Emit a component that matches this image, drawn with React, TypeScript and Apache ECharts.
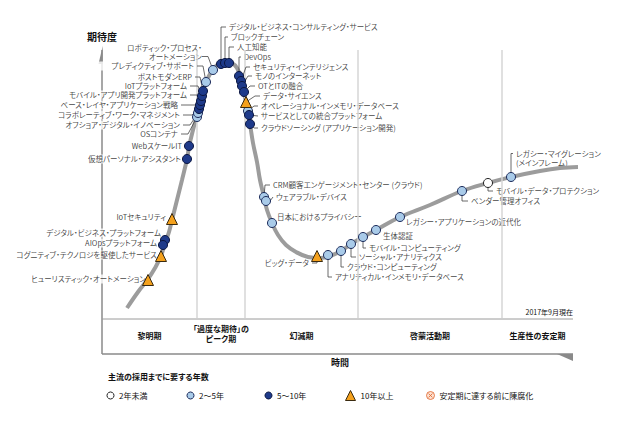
import React, { useEffect, useRef } from 'react';
import * as echarts from 'echarts';

const FONT = '"Noto Sans CJK JP", "Noto Sans", sans-serif';
const GRID_LEFT = 102;
const GRID_TOP = 18;
const GRID_W = 476;
const GRID_H = 300;
const GRID_BOTTOM = GRID_TOP + GRID_H;

// hype curve (time, expectation)
const CURVE: number[][] = [
  [25, 10], [36, 26], [46, 39], [53, 50], [59, 62], [63, 75], [67, 86], [70, 98], [75, 118], [80, 138],
  [85, 159], [87, 171], [91, 188], [95, 203], [98, 216], [101, 226], [104, 236], [108, 244], [112, 250],
  [118, 255], [124, 256], [130, 255], [135, 250], [139, 240], [141, 230], [144, 216], [146, 206], [148, 194],
  [151, 175], [155, 156], [158, 138], [162, 121], [165, 108], [170, 95], [176, 83], [184, 73], [194, 66],
  [206, 61], [218, 60], [228, 62], [239, 67], [249, 74], [261, 81], [274, 88], [298, 101], [328, 113],
  [360, 127], [386, 135], [409, 141], [438, 147], [458, 150], [476, 151],
];

const TECH_NAMES = [
  'ヒューリスティック・オートメーション',
  'コグニティブ・テクノロジを駆使したサービス',
  'デジタル・ビジネス・プラットフォーム',
  'AIOpsプラットフォーム',
  'IoTセキュリティ',
  '仮想パーソナル・アシスタント',
  'WebスケールIT',
  'OSコンテナ',
  'オフショア・デジタル・イノベーション',
  'コラボレーティブ・ワーク・マネジメント',
  'ベース・レイヤ・アプリケーション戦略',
  'モバイル・アプリ開発プラットフォーム',
  'IoTプラットフォーム',
  'ポストモダンERP',
  'プレディクティブ・サポート',
  'ロボティック・プロセス・\nオートメーション',
  'デジタル・ビジネス・コンサルティング・サービス',
  'ブロックチェーン',
  '人工知能',
  'DevOps',
  'セキュリティ・インテリジェンス',
  'モノのインターネット',
  'OTとITの融合',
  'データ・サイエンス',
  'オペレーショナル・インメモリ・データベース',
  'サービスとしての統合プラットフォーム',
  'クラウドソーシング (アプリケーション開発)',
  'CRM顧客エンゲージメント・センター (クラウド)',
  'ウェアラブル・デバイス',
  '日本におけるプライバシー',
  'ビッグ・データ',
  'アナリティカル・インメモリ・データベース',
  'クラウド・コンピューティング',
  'ソーシャル・アナリティクス',
  'モバイル・コンピューティング',
  '生体認証',
  'レガシー・アプリケーションの近代化',
  'ベンダー管理オフィス',
  'モバイル・データ・プロテクション',
  'レガシー・マイグレーション\n(メインフレーム)',
];

const TECH_TIME = [
  46, 59, 63, 61, 70, 85, 87, 95, 96, 97, 98, 99, 100, 101, 104, 111, 119, 123, 127, 137,
  139, 140, 142, 144, 146, 147, 148, 162, 164, 170, 215, 226, 239, 249, 261, 274, 298, 360, 386, 409,
];

const TECH_EXPECT = [
  38, 62, 78, 73, 99, 159, 172, 201, 205, 209, 213, 217, 222, 227, 236, 248, 254, 255, 255, 242,
  237, 232, 226, 216, 207, 203, 194, 121, 117, 95, 62, 63, 67, 74, 81, 88, 101, 127, 135, 141,
];

// 0: <2y, 1: 2-5y, 2: 5-10y, 3: >10y
const TECH_YEARS = [
  3, 3, 2, 2, 3, 2, 2, 1, 1, 2, 2, 2, 2, 2, 1, 1, 2, 2, 2, 2,
  2, 2, 2, 3, 1, 2, 2, 1, 1, 1, 3, 1, 1, 1, 1, 1, 1, 1, 0, 1,
];

const LEGEND_NAMES = ['2年未満', '2～5年', '5～10年', '10年以上', '安定期に達する前に陳腐化'];

const PHASE_NAMES = ['黎明期', '「過度な期待」の\nピーク期', '幻滅期', '啓蒙活動期', '生産性の安定期'];
const PHASE_BOUNDS = [0, 95, 143, 256, 400, 471];

// label layout in page pixels: [x, y, align, leader points]
type Layout = [number, number, 'left' | 'right', number[][] | null];
const LABEL_LAYOUT: Layout[] = [
  [147, 279, 'right', null],
  [158, 255, 'right', null],
  [162, 233, 'right', null],
  [158, 243, 'right', null],
  [167, 217, 'right', null],
  [182, 159, 'right', null],
  [183, 146, 'right', null],
  [179, 134, 'right', [[181, 134], [188, 134]]],
  [181, 125, 'right', [[183, 125], [190, 125]]],
  [181, 115, 'right', [[183, 115], [192, 115]]],
  [179, 105, 'right', [[181, 105], [196, 105]]],
  [188, 95, 'right', [[190, 95], [197, 95]]],
  [188, 86, 'right', [[190, 86], [198, 86]]],
  [193, 77, 'right', [[195, 77], [200, 77]]],
  [195, 66, 'right', [[197, 66], [203, 66]]],
  [203, 52, 'right', [[202, 56.5], [208, 56.5]]],
  [228, 27, 'left', [[226, 27], [221, 27]]],
  [230, 37, 'left', [[228, 37], [225, 37]]],
  [236, 47, 'left', [[234, 47], [229, 47]]],
  [243, 57, 'left', [[241, 57], [239, 57]]],
  [252, 67, 'left', [[250, 67], [246, 67]]],
  [254, 76, 'left', [[252, 76], [248, 76]]],
  [257, 86, 'left', [[255, 86], [250, 86]]],
  [262, 96, 'left', [[260, 96], [255, 96]]],
  [260, 106, 'left', [[258, 106], [254, 106]]],
  [260, 116, 'left', [[258, 116]]],
  [260, 128, 'left', [[258, 128], [254, 128]]],
  [272, 185, 'left', [[270, 185], [265, 185]]],
  [275, 197, 'left', [[273, 197], [270, 201]]],
  [276, 217, 'left', null],
  [310, 263, 'right', [[312, 263], [317, 263]]],
  [334, 277, 'left', [[332, 277], [328, 277]]],
  [346, 267, 'left', [[344, 267], [341, 267]]],
  [358, 257, 'left', [[356, 257], [351, 257]]],
  [368, 248, 'left', [[366, 248], [363, 248]]],
  [382, 236, 'left', null],
  [405, 222, 'left', null],
  [470, 201, 'left', [[468, 201], [462, 201]]],
  [495, 191, 'left', [[493, 191], [488, 191]]],
  [515, 158, 'left', [[513, 153.5], [511, 153.5]]],
];

const MARK_STYLES = [
  { symbol: 'circle', size: 9, color: '#ffffff', border: '#222222' },
  { symbol: 'circle', size: 9, color: '#a9cbe9', border: '#1b2a5a' },
  { symbol: 'circle', size: 9, color: '#1e3a8a', border: '#0b1640' },
  { symbol: 'triangle', size: 11, color: '#f4a11d', border: '#3a2a10' },
];
const OBSOLETE_SYMBOL = 'path://M10,5A5,5,0,1,1,0,5A5,5,0,1,1,10,5ZM2.6,2.6L7.4,7.4M7.4,2.6L2.6,7.4';

// legend item icon centres and sizes (page pixels)
const LEGEND_ICON_X = [110, 190, 268, 350, 430];
const LEGEND_ICON_SIZE = [7, 7, 7, 10, 8];
const LEGEND_ICON_Y = 395;

const toX = (px: number) => px - GRID_LEFT;
const toY = (py: number) => GRID_BOTTOM - py;

function buildOption() {
  const labelData = TECH_NAMES.map((name, i) => {
    const [lx, ly, align] = LABEL_LAYOUT[i];
    return { name, value: [toX(lx), toY(ly)], label: { align } };
  });
  const leaderData: any[] = [];
  TECH_NAMES.forEach((_, i) => {
    const pts = LABEL_LAYOUT[i][3];
    if (!pts) return;
    leaderData.push({
      coords: [...pts.map((p) => [toX(p[0]), toY(p[1])]), [TECH_TIME[i], TECH_EXPECT[i]]],
    });
  });
  const markerSeries = MARK_STYLES.map((st, k) => ({
    type: 'scatter',
    name: LEGEND_NAMES[k],
    z: 6,
    silent: true,
    symbol: st.symbol,
    symbolSize: st.size,
    itemStyle: { color: st.color, borderColor: st.border, borderWidth: 1, opacity: 1 },
    data: TECH_NAMES.map((n, i) => ({ name: n, value: [TECH_TIME[i], TECH_EXPECT[i]], k: TECH_YEARS[i] }))
      .filter((d) => d.k === k)
      .map((d) => ({ name: d.name, value: d.value })),
  }));

  const legends = LEGEND_NAMES.map((name, k) => {
    const size = LEGEND_ICON_SIZE[k];
    return {
      left: LEGEND_ICON_X[k] - size / 2,
      top: LEGEND_ICON_Y - size / 2,
      padding: 0,
      itemWidth: size,
      itemHeight: size,
      itemGap: 0,
      selectedMode: false,
      itemStyle: { borderWidth: 1 },
      textStyle: { fontSize: 8, color: '#111', fontFamily: FONT, padding: [0, 0, 0, 0] },
      data: [name],
    };
  });

  const phasePx = PHASE_BOUNDS.map((b) => GRID_LEFT + b);
  const phaseTexts = PHASE_NAMES.map((t, i) => ({
    type: 'text',
    silent: true,
    style: {
      text: t,
      x: (phasePx[i] + phasePx[i + 1]) / 2,
      y: i === 1 ? 333.5 : 335,
      fill: '#111',
      font: `bold 8px ${FONT}`,
      lineHeight: 10,
      align: 'center',
      textAlign: 'center',
      verticalAlign: 'middle',
      textVerticalAlign: 'middle',
    },
  }));

  const axisColor = '#8a8a8a';
  const graphics: any[] = [
    { type: 'line', silent: true, shape: { x1: 102, y1: 50, x2: 102, y2: 354 }, style: { stroke: axisColor, lineWidth: 1.5 } },
    { type: 'polygon', silent: true, shape: { points: [[102.7, 46], [102.7, 64], [98.5, 64]] }, style: { fill: axisColor } },
    { type: 'line', silent: true, shape: { x1: 102, y1: 319, x2: 573, y2: 319 }, style: { stroke: '#9a9a9a', lineWidth: 1 } },
    { type: 'line', silent: true, shape: { x1: 102, y1: 354, x2: 573, y2: 354 }, style: { stroke: axisColor, lineWidth: 1.5 } },
    { type: 'polygon', silent: true, shape: { points: [[557, 354], [573, 354], [573, 361]] }, style: { fill: axisColor } },
    {
      type: 'text', silent: true,
      style: { text: '期待度', x: 102, y: 36, fill: '#111', font: `bold 10px ${FONT}`, align: 'center', textAlign: 'center', verticalAlign: 'middle', textVerticalAlign: 'middle' },
    },
    {
      type: 'text', silent: true,
      style: { text: '時間', x: 340, y: 362, fill: '#111', font: `bold 9px ${FONT}`, align: 'center', textAlign: 'center', verticalAlign: 'middle', textVerticalAlign: 'middle' },
    },
    {
      type: 'text', silent: true,
      style: { text: '2017年9月現在', x: 573, y: 312, fill: '#111', font: `7px ${FONT}`, align: 'right', textAlign: 'right', verticalAlign: 'middle', textVerticalAlign: 'middle' },
    },
    {
      type: 'text', silent: true,
      style: { text: '主流の採用までに要する年数', x: 108, y: 376, fill: '#111', font: `bold 8px ${FONT}`, align: 'left', textAlign: 'left', verticalAlign: 'middle', textVerticalAlign: 'middle' },
    },
    ...phaseTexts,
  ];

  return {
    animation: false,
    backgroundColor: '#ffffff',
    grid: { left: GRID_LEFT, top: GRID_TOP, width: GRID_W, height: GRID_H, outerBoundsMode: 'none' },
    xAxis: { type: 'value', min: 0, max: GRID_W, show: false },
    yAxis: { type: 'value', min: 0, max: GRID_H, show: false },
    legend: legends,
    graphic: { elements: graphics },
    series: [
      {
        type: 'line',
        name: 'phases',
        data: [],
        z: 1,
        silent: true,
        markLine: {
          silent: true,
          symbol: ['none', 'none'],
          label: { show: false },
          emphasis: { disabled: true },
          lineStyle: { color: '#d6d6d6', width: 1.5, type: 'solid' },
          data: PHASE_BOUNDS.slice(1, -1).map((b) => [{ coord: [b, 0] }, { coord: [b, toY(50)] }]),
        },
      },
      {
        type: 'scatter',
        name: 'labels',
        z: 3,
        silent: true,
        symbol: 'circle',
        symbolSize: 0.1,
        itemStyle: { color: 'rgba(0,0,0,0)' },
        label: {
          show: true,
          position: [0, 0],
          formatter: '{b}',
          verticalAlign: 'middle',
          fontSize: 7.5,
          lineHeight: 9,
          fontFamily: FONT,
          color: '#111',
          backgroundColor: '#ffffff',
          padding: [0, 1],
        },
        data: labelData,
      },
      {
        type: 'line',
        name: 'curve',
        z: 4,
        silent: true,
        data: CURVE,
        smooth: 0.4,
        symbol: 'none',
        lineStyle: { color: '#9c9c9c', width: 4 },
      },
      {
        type: 'lines',
        name: 'leaders',
        coordinateSystem: 'cartesian2d',
        polyline: true,
        z: 5,
        silent: true,
        lineStyle: { color: '#444444', width: 0.8, opacity: 1 },
        data: leaderData,
      },
      ...markerSeries,
      {
        type: 'scatter',
        name: LEGEND_NAMES[4],
        symbol: OBSOLETE_SYMBOL,
        symbolSize: 9,
        itemStyle: { color: '#fbd9c4', borderColor: '#e0632a', borderWidth: 1 },
        data: [],
      },
    ],
  };
}

export default function App() {
  const ref = useRef<HTMLDivElement>(null);
  useEffect(() => {
    if (!ref.current) return;
    const chart = echarts.init(ref.current, undefined, { renderer: 'svg', width: 618, height: 425 });
    chart.setOption(buildOption() as any);
    return () => chart.dispose();
  }, []);
  return (
    <>
      <style>{'body{margin:0;} svg text{font-feature-settings:"palt" 1 !important;}'}</style>
      <div ref={ref} style={{ width: 618, height: 425 }} />
    </>
  );
}
